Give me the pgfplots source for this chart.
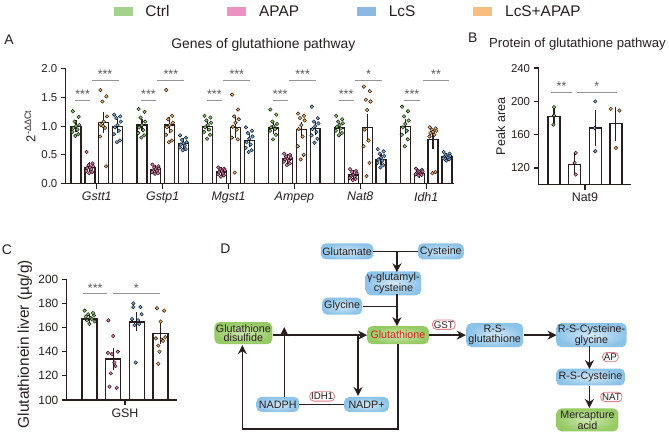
\documentclass[border=0pt]{standalone}
\usepackage{pgfplots}
\pgfplotsset{compat=1.18}
\usepackage{fontspec}
\setmainfont{Liberation Sans}
\usetikzlibrary{arrows.meta}
\definecolor{cG}{RGB}{135,200,105}
\definecolor{cP}{RGB}{236,120,175}
\definecolor{cB}{RGB}{115,168,225}
\definecolor{cO}{RGB}{248,178,105}
\definecolor{lG}{RGB}{162,210,140}
\definecolor{lP}{RGB}{236,146,192}
\definecolor{lB}{RGB}{140,185,228}
\definecolor{lO}{RGB}{247,190,130}
\definecolor{nB}{RGB}{140,195,232}
\definecolor{nBi}{RGB}{210,233,247}
\definecolor{nG}{RGB}{150,202,100}
\definecolor{nGi}{RGB}{205,232,175}
\definecolor{sig}{RGB}{150,150,150}
\definecolor{dk}{RGB}{40,30,30}
\definecolor{gshred}{RGB}{215,30,30}
\definecolor{enz}{RGB}{235,120,130}
\pgfplotsset{
 panel/.style={scale only axis, axis lines*=left,
   axis line style={line width=1.3bp, dk}, tick style={line width=1.3bp, dk},
   tick align=outside, major tick length=5bp, clip=false,
   /pgf/number format/assume math mode=true,
   yticklabel style={font=\fontsize{11.5}{13}\selectfont, text=dk},
   xticklabel style={text=dk},
   ylabel style={anchor=center, text=dk}},
 barp/.style={ybar, bar shift=0pt, fill=white, draw=dk, line width=1.3bp, forget plot,
   error bars/y dir=both, error bars/y explicit,
   error bars/error bar style={line width=1.2bp, dk},
   error bars/error mark options={line width=1.2bp, dk, mark size=3.5bp}},
 dots/.style={only marks, mark=*, mark size=1.8bp, forget plot, mark options={draw=none, fill=#1}},
}
\tikzset{
 nb/.style={inner color=nBi, outer color=nB, rounded corners=5bp, inner sep=1.5bp, font=\fontsize{10.8}{9.8}\selectfont, align=center, text=dk, minimum height=16bp},
 ng/.style={nb, inner color=nGi, outer color=nG},
 ez/.style={draw=enz, fill=white, rounded corners=4bp, line width=0.8bp, inner sep=1.3bp, font=\fontsize{9.8}{10}\selectfont, text=dk},
 ar/.style={line width=1.3bp, draw=dk, -{Stealth[length=9bp,width=9bp]}},
 ln/.style={line width=1.3bp, draw=dk},
 sg/.style={draw=sig, line width=1.2bp},
 st/.style={midway, anchor=south, inner sep=1bp, text=black!65, font=\fontsize{12.5}{13}\selectfont},
}
\begin{document}
\begin{tikzpicture}
\begin{scope}[x=1bp,y=-1bp]
\path[use as bounding box] (0,0) rectangle (669,432);
\node[font=\fontsize{14}{16}\selectfont, text=dk] at (9,40) {A};
\node[font=\fontsize{14}{16}\selectfont, text=dk] at (474,38) {B};
\node[font=\fontsize{14}{16}\selectfont, text=dk] at (7,250) {C};
\node[font=\fontsize{14}{16}\selectfont, text=dk] at (226,249) {D};
% pathway diagram
\node[nb, minimum width=50bp] at (348,252) {Glutamate};
\node[nb, minimum width=46bp] at (442,252) {Cysteine};
\node[nb, minimum width=55bp, minimum height=22bp] at (394.5,284) {γ-glutamyl-\\cysteine};
\node[nb, minimum width=40bp, minimum height=17bp] at (343,307) {Glycine};
\node[ng, minimum width=62bp, minimum height=18bp, text=gshred] at (399,336) {Glutathione};
\node[ng, minimum width=58bp, minimum height=22bp] at (244,334) {Glutathione\\disulfide};
\node[nb, minimum width=43bp, minimum height=15bp] at (278.5,405.5) {NADPH};
\node[nb, minimum width=45bp, minimum height=15bp] at (367.5,405.5) {NADP+};
\node[nb, minimum width=57bp, minimum height=24bp] at (496,336) {R-S-\\glutathione};
\node[nb, minimum width=70bp, minimum height=22bp] at (593,336) {R-S-Cysteine-\\glycine};
\node[nb, minimum width=69bp, minimum height=17bp] at (592,378) {R-S-Cysteine};
\node[ng, minimum width=62bp, minimum height=23bp] at (589,421) {Mercapture\\acid};
\draw[ln] (374,252) -- (419,252);
\draw[ar] (398,252) -- (398,273);
\draw[ln] (364,307) -- (398,307);
\draw[ar] (398,295) -- (398,327);
\draw[ar] (274,336) -- (368,336);
\draw[ar] (285,398) -- (285,328);
\draw[ar] (359,336) -- (359,397);
\draw[ln] (300,405.5) -- (345,405.5);
\draw[ar] (399,345) -- (399,430) -- (243,430) -- (243,346);
\draw[ar] (430,336) -- (467,336);
\draw[ar] (525,336) -- (558,336);
\draw[ar] (591,347) -- (591,370);
\draw[ar] (591,387) -- (591,409);
\node[ez] at (323,397.5) {IDH1};
\node[ez] at (445,325.5) {GST};
\node[ez] at (612,358) {AP};
\node[ez] at (613,398) {NAT};
\end{scope}

% ---------------- Panel A
\begin{axis}[panel, at={(66bp,-184bp)}, anchor=south west, width=389bp, height=115bp,
  xmin=-0.47, xmax=5.42, ymin=0, ymax=2,
  ytick={0,0.5,1,1.5,2},
  yticklabel style={/pgf/number format/.cd, fixed, fixed zerofill, precision=1},
  xtick={0,1,2,3,4,5}, xticklabels={Gstt1,Gstp1,Mgst1,Ampep,Nat8,Idh1},
  xticklabel style={font=\fontsize{12.5}{14}\selectfont\itshape},
  ylabel={2\textsuperscript{-ΔΔCt}},
  ylabel style={at={(axis description cs:-0.0925,0.5)}, font=\fontsize{13}{15}\selectfont},
  title={Genes of glutathione pathway},
  title style={at={(axis description cs:0.509,1.209)}, anchor=center, yshift=-6pt, font=\fontsize{14}{16}\selectfont, text=dk},
  legend image code/.code={\fill[#1] (0bp,-4.5bp) rectangle (19bp,4.5bp);},
  legend style={at={(axis description cs:0.725,1.496)}, anchor=center, draw=none, fill=none,
    legend columns=4, font=\fontsize{15.5}{17}\selectfont, text=dk,
    nodes={inner sep=0pt},
    /tikz/every odd column/.append style={column sep=13bp},
    /tikz/every even column/.append style={column sep=58bp}},
  legend cell align=left]
\addlegendimage{fill=lG, draw=none}\addlegendentry{Ctrl}
\addlegendimage{fill=lP, draw=none}\addlegendentry{APAP}
\addlegendimage{fill=lB, draw=none}\addlegendentry{LcS}
\addlegendimage{fill=lO, draw=none}\addlegendentry{LcS+APAP}
\addplot[barp, bar width=10bp] coordinates {(-0.315,1.00) +- (0,0.04) (0.685,1.02) +- (0,0.05) (1.685,1.00) +- (0,0.03) (2.685,0.97) +- (0,0.04) (3.685,0.97) +- (0,0.03) (4.685,1.00) +- (0,0.07)};
\addplot[barp, bar width=10bp] coordinates {(-0.105,0.28) +- (0,0.03) (0.895,0.24) +- (0,0.02) (1.895,0.20) +- (0,0.03) (2.895,0.43) +- (0,0.02) (3.895,0.15) +- (0,0.02) (4.895,0.17) +- (0,0.01)};
\addplot[barp, bar width=10bp] coordinates {(0.105,1.06) +- (0,0.12) (1.105,1.02) +- (0,0.08) (2.105,0.98) +- (0,0.12) (3.105,0.94) +- (0,0.08) (4.105,0.98) +- (0,0.17) (5.105,0.77) +- (0,0.10)};
\addplot[barp, bar width=10bp] coordinates {(0.315,1.00) +- (0,0.06) (1.315,0.70) +- (0,0.03) (2.315,0.75) +- (0,0.05) (3.315,0.96) +- (0,0.06) (4.315,0.42) +- (0,0.04) (5.315,0.46) +- (0,0.02)};
\addplot[dots=cG] coordinates {
(-0.365,1.26)(-0.275,1.16)(-0.335,1.08)(-0.265,1.02)(-0.315,1.00)(-0.355,0.97)(-0.295,0.94)(-0.37,0.90)(-0.28,0.86)(-0.325,0.83)
(0.635,1.30)(0.725,1.25)(0.665,1.15)(0.735,1.08)(0.685,1.02)(0.645,0.98)(0.705,0.93)(0.63,0.88)(0.72,0.84)(0.675,0.80)
(1.635,1.18)(1.725,1.15)(1.665,1.10)(1.735,1.06)(1.685,1.02)(1.645,0.98)(1.705,0.94)(1.63,0.90)(1.72,0.85)(1.675,0.78)
(2.635,1.29)(2.725,1.20)(2.665,1.08)(2.735,1.04)(2.685,1.00)(2.645,0.98)(2.705,0.95)(2.63,0.92)(2.72,0.85)(2.675,0.77)
(3.635,1.18)(3.725,1.12)(3.665,1.08)(3.735,1.05)(3.685,1.02)(3.645,0.99)(3.705,0.96)(3.63,0.92)(3.72,0.88)(3.675,0.84)
(4.635,1.34)(4.725,1.26)(4.665,1.17)(4.735,1.10)(4.685,1.04)(4.645,0.98)(4.705,0.92)(4.63,0.85)(4.72,0.77)(4.675,0.65)};
\addplot[dots=cP] coordinates {
(-0.155,0.55)(-0.065,0.35)(-0.125,0.32)(-0.055,0.30)(-0.105,0.28)(-0.145,0.27)(-0.085,0.25)(-0.16,0.22)(-0.07,0.20)(-0.115,0.18)
(0.845,0.33)(0.935,0.30)(0.875,0.28)(0.945,0.26)(0.895,0.25)(0.855,0.23)(0.915,0.22)(0.84,0.20)(0.93,0.18)(0.885,0.17)
(1.845,0.28)(1.935,0.26)(1.875,0.25)(1.945,0.23)(1.895,0.22)(1.855,0.20)(1.915,0.18)(1.84,0.16)(1.93,0.14)(1.885,0.12)
(2.845,0.52)(2.935,0.50)(2.875,0.47)(2.945,0.45)(2.895,0.43)(2.855,0.42)(2.915,0.40)(2.84,0.38)(2.93,0.35)(2.885,0.32)
(3.845,0.25)(3.935,0.22)(3.875,0.20)(3.945,0.18)(3.895,0.15)(3.855,0.13)(3.915,0.12)(3.84,0.10)(3.93,0.08)(3.885,0.06)
(4.845,0.26)(4.935,0.24)(4.875,0.22)(4.945,0.21)(4.895,0.20)(4.855,0.18)(4.915,0.17)(4.84,0.16)(4.93,0.15)(4.885,0.14)};
\addplot[dots=cO] coordinates {
(0.055,1.63)(0.145,1.52)(0.085,1.43)(0.155,1.17)(0.105,1.08)(0.065,1.02)(0.125,0.97)(0.05,0.82)(0.14,0.30)(0.095,1.00)
(1.055,1.63)(1.145,1.18)(1.085,1.12)(1.155,1.06)(1.105,1.02)(1.065,0.98)(1.125,0.92)(1.05,0.85)(1.14,0.75)(1.095,0.72)
(2.055,1.55)(2.145,1.29)(2.085,1.17)(2.155,1.12)(2.105,1.06)(2.065,0.99)(2.125,0.94)(2.05,0.80)(2.14,0.77)(2.095,0.19)
(3.055,1.22)(3.145,1.18)(3.085,1.14)(3.155,1.10)(3.105,1.02)(3.065,0.95)(3.125,0.82)(3.05,0.65)(3.14,0.50)(3.095,0.42)
(4.055,1.69)(4.145,1.61)(4.085,1.46)(4.155,1.43)(4.105,1.28)(4.065,0.94)(4.125,0.75)(4.05,0.65)(4.14,0.36)(4.095,0.13)
(5.055,0.98)(5.145,0.96)(5.085,0.94)(5.155,0.92)(5.105,0.90)(5.065,0.88)(5.125,0.85)(5.05,0.82)(5.14,0.20)(5.095,0.18)};
\addplot[dots=cB] coordinates {
(0.265,1.20)(0.355,1.17)(0.295,1.14)(0.365,1.08)(0.315,1.02)(0.275,0.98)(0.335,0.92)(0.26,0.86)(0.35,0.75)(0.305,0.72)
(1.265,0.84)(1.355,0.80)(1.295,0.76)(1.365,0.72)(1.315,0.70)(1.275,0.68)(1.335,0.66)(1.26,0.63)(1.35,0.60)(1.305,0.58)
(2.265,0.98)(2.355,0.92)(2.295,0.88)(2.365,0.82)(2.315,0.78)(2.275,0.72)(2.335,0.68)(2.26,0.62)(2.35,0.58)(2.305,0.55)
(3.265,1.34)(3.355,1.14)(3.295,1.08)(3.365,1.05)(3.315,1.00)(3.275,0.95)(3.335,0.90)(3.26,0.84)(3.35,0.78)(3.305,0.71)
(4.265,0.60)(4.355,0.56)(4.295,0.52)(4.365,0.48)(4.315,0.45)(4.275,0.42)(4.335,0.40)(4.26,0.36)(4.35,0.32)(4.305,0.28)
(5.265,0.55)(5.355,0.52)(5.295,0.50)(5.365,0.48)(5.315,0.47)(5.275,0.46)(5.335,0.45)(5.26,0.44)(5.35,0.42)(5.305,0.40)};
\draw[sg] (axis cs:-0.33,1.45) -- (axis cs:-0.10,1.45) node[st]{***};
\draw[sg] (axis cs:-0.08,1.80) -- (axis cs:0.33,1.80) node[st]{***};
\draw[sg] (axis cs:0.67,1.45) -- (axis cs:0.90,1.45) node[st]{***};
\draw[sg] (axis cs:0.92,1.80) -- (axis cs:1.33,1.80) node[st]{***};
\draw[sg] (axis cs:1.67,1.45) -- (axis cs:1.90,1.45) node[st]{***};
\draw[sg] (axis cs:1.92,1.80) -- (axis cs:2.33,1.80) node[st]{***};
\draw[sg] (axis cs:2.67,1.45) -- (axis cs:2.90,1.45) node[st]{***};
\draw[sg] (axis cs:2.92,1.80) -- (axis cs:3.33,1.80) node[st]{***};
\draw[sg] (axis cs:3.67,1.45) -- (axis cs:3.90,1.45) node[st]{***};
\draw[sg] (axis cs:3.92,1.80) -- (axis cs:4.33,1.80) node[st]{*};
\draw[sg] (axis cs:4.67,1.45) -- (axis cs:4.90,1.45) node[st]{***};
\draw[sg] (axis cs:4.95,1.80) -- (axis cs:5.35,1.80) node[st]{**};
\end{axis}

% ---------------- Panel B
\begin{axis}[panel, at={(540bp,-185bp)}, anchor=south west, width=93bp, height=116.7bp,
  xmin=0.25, xmax=4.75, ymin=100, ymax=240,
  ytick={120,160,200,240},
  xtick={2.5}, xticklabels={Nat9},
  xticklabel style={font=\fontsize{12.5}{14}\selectfont},
  ylabel={Peak area},
  ylabel style={at={(axis description cs:-0.409,0.5)}, font=\fontsize{12.7}{14}\selectfont},
  title={Protein of glutathione pathway},
  title style={at={(axis description cs:0.419,1.208)}, anchor=center, yshift=-6pt, font=\fontsize{13.2}{15}\selectfont, text=dk}]
\addplot[barp, bar width=12bp] coordinates {(1,182) +- (0,6) (2,124.4) +- (0,8.4) (3,168) +- (0,18) (4,173) +- (0,16)};
\addplot[dots=cG] coordinates {(1,193)(1,183)(0.97,172)};
\addplot[dots=cP] coordinates {(2.05,138)(2,126)(2.05,112)};
\addplot[dots=cB] coordinates {(3,200)(2.97,168)(3,140)};
\addplot[dots=cO] coordinates {(3.75,191)(4.17,189)(4,144)};
\draw[sg] (axis cs:0.86,211) -- (axis cs:1.87,211) node[st]{**};
\draw[sg] (axis cs:2.11,211) -- (axis cs:4.04,211) node[st]{*};
\end{axis}

% ---------------- Panel C
\begin{axis}[panel, at={(67bp,-401bp)}, anchor=south west, width=110.7bp, height=121bp,
  xmin=0.05, xmax=4.7, ymin=100, ymax=200,
  ytick={100,120,140,160,180,200},
  yticklabel style={font=\fontsize{12}{14}\selectfont},
  xtick={2.5}, xticklabels={GSH},
  xticklabel style={font=\fontsize{12.5}{14}\selectfont},
  ylabel={Glutathionein liver (µg/g)},
  ylabel style={at={(axis description cs:-0.379,0.463)}, font=\fontsize{15.5}{17}\selectfont}]
\addplot[barp, bar width=15bp] coordinates {(1,167) +- (0,1.5) (2,134) +- (0,6) (3,164.7) +- (0,5) (4,155) +- (0,5.5)};
\addplot[dots=cG] coordinates {(0.8,174)(1.15,172)(0.95,171)(1.2,170)(0.85,169)(1.05,168)(1.1,167)(0.9,166)(1.22,165)(1.0,163)};
\addplot[dots=cP] coordinates {(1.8,166)(2.0,153)(2.2,140)(1.78,139)(1.95,138)(2.05,131)(2.1,128)(1.9,122)(1.85,111)(2.15,110)};
\addplot[dots=cB] coordinates {(2.85,180)(3.15,177)(2.85,177)(3.2,171)(2.8,167)(3.05,166)(3.1,163)(2.9,162)(2.95,131)};
\addplot[dots=cO] coordinates {(3.85,176)(4.15,174)(4.0,165)(4.2,152)(3.8,151)(4.05,150)(4.1,149)(3.9,145)(3.95,140)(3.9,130)};
\draw[sg] (axis cs:0.74,188) -- (axis cs:1.75,188) node[st]{***};
\draw[sg] (axis cs:2.0,188) -- (axis cs:3.96,188) node[st]{*};
\end{axis}
\end{tikzpicture}
\end{document}
